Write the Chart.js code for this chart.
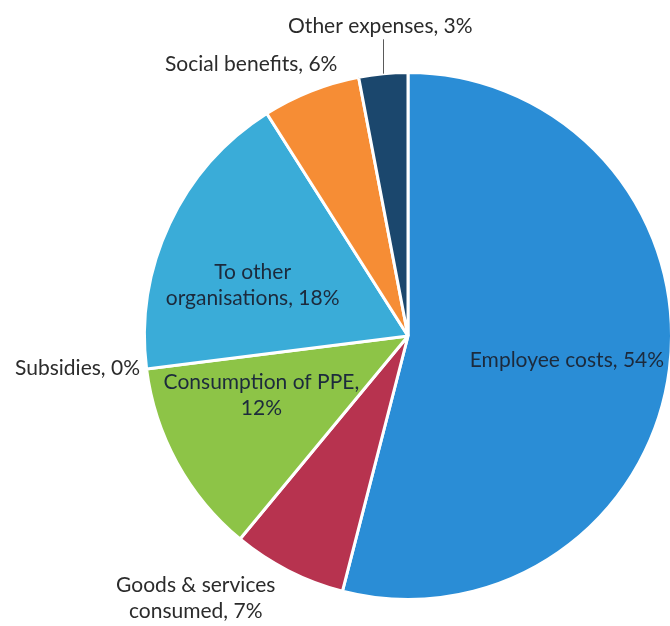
<!DOCTYPE html>
<html>
<head>
<meta charset="utf-8">
<title>Expenditure breakdown</title>
<script src="https://cdn.jsdelivr.net/npm/chart.js@4/dist/chart.umd.min.js"></script>
<style>
  html, body { margin: 0; padding: 0; background: #fff; overflow: hidden; }
  #wrap { width: 680px; height: 626px; }
</style>
</head>
<body>
<div id="wrap"><canvas id="pie" width="680" height="626"></canvas></div>
<script>
'use strict';

// Expenditure shares, clockwise from 12 o'clock
const categories = [
  'Employee costs',
  'Goods & services consumed',
  'Consumption of PPE',
  'Subsidies',
  'To other organisations',
  'Social benefits',
  'Other expenses'
];
const shares = [54, 7, 12, 0, 18, 6, 3];

// How each label text breaks onto lines
const labelLines = [
  ['Employee costs, 54%'],
  ['Goods & services', 'consumed, 7%'],
  ['Consumption of PPE,', '12%'],
  ['Subsidies, 0%'],
  ['To other', 'organisations, 18%'],
  ['Social benefits, 6%'],
  ['Other expenses, 3%']
];

const sliceColors = ['#2A8DD6', '#B7334F', '#8DC447', '#2C9FD0', '#3AACD8', '#F68D35', '#1B476D'];

// label placement: shift from slice mid-angle (deg) and distance as fraction of radius
const labelShift = [1.4, 12, 6.8, 1.7, -7.2, -8.4, 0.3];
const labelDist = [0.61, 1.28, 0.6, 1.26, 0.62, 1.19, 1.18];
const labelInside = [true, false, true, false, true, false, false];
const leaderLine = [false, false, false, false, false, false, true];

const FONT = '21px Lato, "Open Sans", sans-serif';
const LINE_H = 26;

const pieLabels = {
  id: 'pieLabels',
  afterDatasetsDraw(chart) {
    const ctx = chart.ctx;
    const arcs = chart.getDatasetMeta(0).data;
    ctx.save();
    ctx.font = FONT;
    ctx.textAlign = 'center';
    ctx.textBaseline = 'middle';
    arcs.forEach((arc, i) => {
      const { x, y, startAngle, endAngle, outerRadius } = arc.getProps(['x', 'y', 'startAngle', 'endAngle', 'outerRadius'], true);
      const mid = (startAngle + endAngle) / 2;
      const a = mid + labelShift[i] * Math.PI / 180;
      const r = outerRadius * labelDist[i];
      const lx = x + Math.cos(a) * r;
      const ly = y + Math.sin(a) * r;
      const lines = labelLines[i];
      const top = ly - (lines.length - 1) * LINE_H / 2;

      if (leaderLine[i]) {
        const ex = x + Math.cos(mid) * outerRadius;
        const ey = y + Math.sin(mid) * outerRadius;
        ctx.strokeStyle = '#5a5a5a';
        ctx.lineWidth = 1;
        ctx.beginPath();
        ctx.moveTo(Math.round(ex) + 0.5, ey);
        ctx.lineTo(Math.round(ex) + 0.5, top + 13);
        ctx.stroke();
      }

      ctx.fillStyle = labelInside[i] ? '#1c2a3c' : '#2b2b2b';
      lines.forEach((t, k) => ctx.fillText(t, lx, top + k * LINE_H));
    });
    ctx.restore();
  }
};

new Chart(document.getElementById('pie'), {
  type: 'pie',
  data: {
    labels: categories,
    datasets: [{
      data: shares,
      backgroundColor: sliceColors,
      borderColor: '#ffffff',
      borderWidth: 3
    }]
  },
  options: {
    responsive: false,
    animation: false,
    layout: { padding: { left: 143, right: 7, top: 71, bottom: 25 } },
    plugins: {
      legend: { display: false },
      tooltip: { enabled: false }
    }
  },
  plugins: [pieLabels]
});
</script>
</body>
</html>
